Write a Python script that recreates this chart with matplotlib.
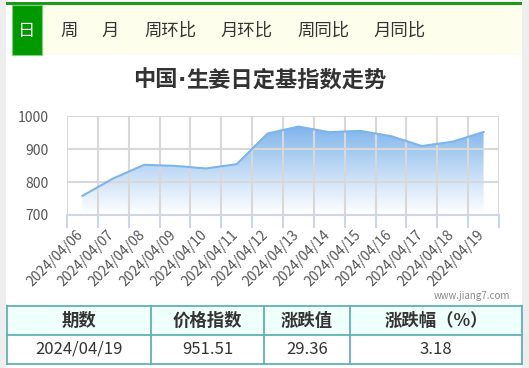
import matplotlib
matplotlib.use("Agg")
import matplotlib.pyplot as plt
import numpy as np
from matplotlib.patches import Rectangle, Polygon

plt.rcParams['font.family'] = ['Noto Sans CJK SC', 'DejaVu Sans']

dates = ["2024/04/06", "2024/04/07", "2024/04/08", "2024/04/09", "2024/04/10",
         "2024/04/11", "2024/04/12", "2024/04/13", "2024/04/14", "2024/04/15",
         "2024/04/16", "2024/04/17", "2024/04/18", "2024/04/19"]
values = [758, 811, 852, 849, 841, 854, 947, 968, 951, 955, 939, 909, 922.15, 951.51]
yticks = [700, 800, 900, 1000]
tabs = ["周", "月", "周环比", "月环比", "周同比", "月同比"]
tab_x = [69, 110, 170, 247, 323, 400]
title_parts = ["中国", "·", "生姜日定基指数走势"]
headers = ["期数", "价格指数", "涨跌值", "涨跌幅（%）"]
row = ["2024/04/19", "951.51", "29.36", "3.18"]

W, H = 529, 368
fig = plt.figure(figsize=(W / 100, H / 100), dpi=100)
fig.patch.set_facecolor("white")


def fx(x):
    return x / W


def fy(y):
    return 1 - y / H


def rect(x0, y0, x1, y1, **kw):
    fig.add_artist(Rectangle((fx(x0), fy(y1)), fx(x1) - fx(x0), fy(y0) - fy(y1),
                             transform=fig.transFigure, **kw))


# side strips
rect(0, 0, 6, H, facecolor="#eeeeee", edgecolor="none")
rect(522, 0, W, H, facecolor="#eeeeee", edgecolor="none")
# top green line
rect(6, 2.5, 522, 5, facecolor="#1a9a1a", edgecolor="none")
# tab bar
rect(12, 5, 522, 55, facecolor="#fefeec", edgecolor="none")
rect(12, 5, 42, 55, facecolor="#009a00", edgecolor="#7fd07f", linewidth=0.8)
fig.text(fx(27), fy(31), "日", color="white", fontsize=12.5, ha="center", va="center")
for t, x in zip(tabs, tab_x):
    fig.text(fx(x), fy(31), t, color="#333333", fontsize=12.5, ha="center", va="center")

# title, built from pieces so the middle dot stays narrow
renderer = fig.canvas.get_renderer()
tfams = [['Noto Sans CJK SC'], ['DejaVu Sans'], ['Noto Sans CJK SC']]
tobjs = []
for part, fam in zip(title_parts, tfams):
    t = fig.text(0, fy(80), part, fontsize=16, fontweight="bold", color="#333333",
                 ha="left", va="center", family=fam)
    tobjs.append(t)
widths = [t.get_window_extent(renderer).width for t in tobjs]
total = sum(widths)
x0 = 260 - total / 2
for t, w in zip(tobjs, widths):
    t.set_x(fx(x0))
    x0 += w

# chart
ax = fig.add_axes([fx(67), fy(215), fx(499) - fx(67), fy(116) - fy(215)])
n = len(values)
xs = np.arange(n)
ax.set_xlim(-0.5, n - 0.5)
ax.set_ylim(700, 1000)

# gradient fill
verts = [(xs[0], 700)] + list(zip(xs, values)) + [(xs[-1], 700)]
poly = Polygon(verts, closed=True, facecolor="none", edgecolor="none")
ax.add_patch(poly)
grad = np.linspace(0, 1, 256)
rgb = np.array([0.42, 0.66, 0.91])
img = np.zeros((256, 1, 4))
img[:, 0, :3] = rgb
img[:, 0, 3] = (grad ** 1.05) * 0.97
im = ax.imshow(img, extent=(-0.5, n - 0.5, 700, 1000), origin="lower", aspect="auto", zorder=1)
im.set_clip_path(poly)
ax.plot(xs, values, color="#7cb5ec", linewidth=1.5, zorder=3)

for s in ["top", "right", "left"]:
    ax.spines[s].set_visible(False)
ax.spines["bottom"].set_color("#ccd6eb")
ax.spines["bottom"].set_linewidth(1.5)

ax.set_yticks(yticks)
ax.set_yticklabels([str(v) for v in yticks], fontsize=10, color="#555555")
ax.tick_params(axis="y", length=0, pad=13)
ax.grid(axis="y", color="#d8d8d8", linewidth=1.5, zorder=2)

ax.set_xticks(np.arange(-0.5, n, 1.0))
ax.set_xticklabels([])
ax.tick_params(axis="x", which="major", length=9, width=1.5, color="#ccd6eb", direction="out")
for b in np.arange(-0.5, n, 1.0):
    ax.axvline(b, color="#d8d8d8", linewidth=1.5, zorder=2)
ax.set_xticks(xs + 0.12, minor=True)
ax.set_xticklabels(dates, minor=True, rotation=45, ha="right", va="top",
                   fontsize=10, color="#555555")
ax.tick_params(axis="x", which="minor", length=0, pad=9)
ax.set_axisbelow(False)

# watermark
fig.text(fx(510), fy(296), "www.jiang7.com", fontsize=7, color="#888888", ha="right", va="center")

# table
cols = [7, 151, 264, 350, 522]
rect(7, 306, 522, 335, facecolor="#effffa", edgecolor="none")
rect(7, 335, 522, 364, facecolor="white", edgecolor="none")
border = "#5fb3ae"
for yy in [306, 335, 364]:
    fig.add_artist(plt.Line2D([fx(7), fx(522)], [fy(yy), fy(yy)], color=border,
                              linewidth=1.3, transform=fig.transFigure))
for xx in cols:
    fig.add_artist(plt.Line2D([fx(xx), fx(xx)], [fy(306), fy(364)], color=border,
                              linewidth=1.3, transform=fig.transFigure))
for i in range(4):
    cx = (cols[i] + cols[i + 1]) / 2
    fig.text(fx(cx), fy(320.5), headers[i], fontsize=12.5, fontweight="bold", color="#333333",
             ha="center", va="center")
    fig.text(fx(cx), fy(349.5), row[i], fontsize=12, color="#333333",
             ha="center", va="center")

fig.savefig("out.png", dpi=100)
